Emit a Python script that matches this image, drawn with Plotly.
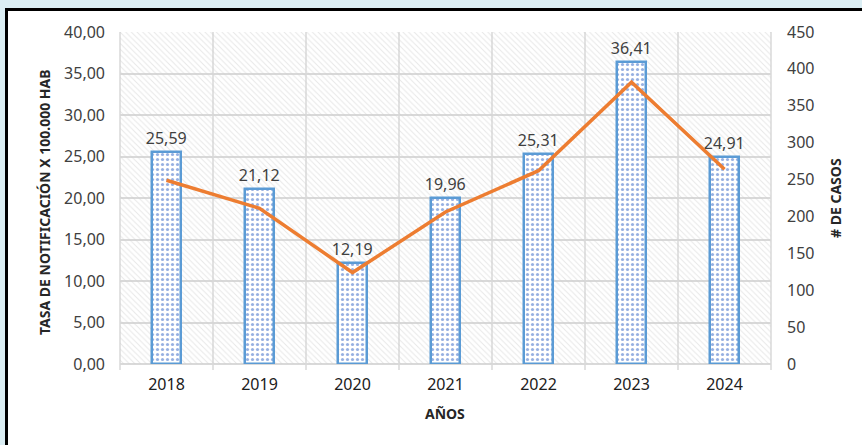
import plotly.graph_objects as go

years = [2018, 2019, 2020, 2021, 2022, 2023, 2024]
tasa = [25.59, 21.12, 12.19, 19.96, 25.31, 36.41, 24.91]
casos = [249, 211, 124, 206, 262, 382, 264]

W, H = 862, 445
L, R, T, B = 120, 91, 32, 81
pw, ph = W - L - R, H - T - B

def px2x(p):
    return (p - L) / pw

def px2y(p):
    return (H - B - p) / ph

font = "Noto Sans"
txt = "#404040"
grid = "#d9d9d9"

fig = go.Figure()

n = len(years)
# hatched plot-area background
fig.add_trace(go.Bar(
    x=[(years[0] + years[-1]) / 2], y=[40], width=[n], base=0,
    marker=dict(color="rgba(0,0,0,0)", line=dict(width=0),
                pattern=dict(shape="\\", size=4, solidity=0.25,
                             fgcolor="#d0d0d0", bgcolor="rgba(0,0,0,0)")),
    hoverinfo="skip", showlegend=False))

fig.add_trace(go.Bar(
    x=years, y=tasa, width=0.31,
    marker=dict(color="white", line=dict(color="#5b9bd5", width=2.5),
                pattern=dict(shape=".", size=5, solidity=0.32,
                             fgcolor="#2f62c4", bgcolor="white")),
    texttemplate="%{y:.2f}", textposition="outside", constraintext="none",
    textfont=dict(family=font, size=16, color=txt),
    cliponaxis=False, showlegend=False))

fig.add_trace(go.Scatter(
    x=years, y=casos, yaxis="y2", mode="lines",
    line=dict(color="#ed7d31", width=3.5), showlegend=False))

shapes = []
# outer frame (white with black border)
shapes.append(dict(type="rect", xref="paper", yref="paper", layer="below",
                   x0=px2x(6.5), x1=px2x(W + 6), y0=px2y(H + 6), y1=px2y(9.5),
                   fillcolor="white", line=dict(color="black", width=3)))
# vertical category-boundary gridlines with tick marks
for i in range(n + 1):
    shapes.append(dict(type="line", xref="paper", yref="paper", layer="below",
                       x0=i / n, x1=i / n, y0=px2y(H - B + 6), y1=1,
                       line=dict(color=grid, width=1.5)))

fig.update_layout(
    width=W, height=H,
    margin=dict(l=L, r=R, t=T, b=B),
    paper_bgcolor="#dbeef4",
    plot_bgcolor="rgba(0,0,0,0)",
    separators=",.",
    barmode="overlay",
    bargap=0,
    shapes=shapes,
    xaxis=dict(range=[years[0] - 0.5, years[-1] + 0.5], tickvals=years,
               ticktext=[str(y) for y in years], showgrid=False, zeroline=False,
               showline=False, ticks="", ticklabelstandoff=9,
               tickfont=dict(family=font, size=16, color="#202020")),
    yaxis=dict(range=[0, 40], dtick=5, tickformat=".2f", showgrid=True,
               gridcolor=grid, gridwidth=1.5, zeroline=True, zerolinecolor=grid,
               zerolinewidth=1.5, showline=False, ticks="", ticklabelstandoff=14,
               tickfont=dict(family=font, size=16, color=txt)),
    yaxis2=dict(range=[0, 450], dtick=50, overlaying="y", side="right",
                showgrid=False, zeroline=False, showline=False, ticks="",
                ticklabelstandoff=15,
                tickfont=dict(family=font, size=16, color=txt)),
    annotations=[
        dict(text="<b>TASA DE NOTIFICACIÓN X 100.000 HAB</b>", textangle=-90,
             xref="paper", yref="paper", x=px2x(45), y=px2y(202),
             xanchor="center", yanchor="middle",
             showarrow=False, font=dict(family=font, size=14, color="#262626")),
        dict(text="<b># DE CASOS</b>", textangle=-90,
             xref="paper", yref="paper", x=px2x(835), y=px2y(198),
             xanchor="center", yanchor="middle",
             showarrow=False, font=dict(family=font, size=14, color="#262626")),
        dict(text="<b>AÑOS</b>", xref="paper", yref="paper",
             x=px2x(445), y=px2y(413), xanchor="center", yanchor="middle",
             showarrow=False, font=dict(family=font, size=14, color="#262626")),
    ],
)

fig.write_html("out.html", config={"displayModeBar": False},
               post_script="document.body.style.margin='0';")
